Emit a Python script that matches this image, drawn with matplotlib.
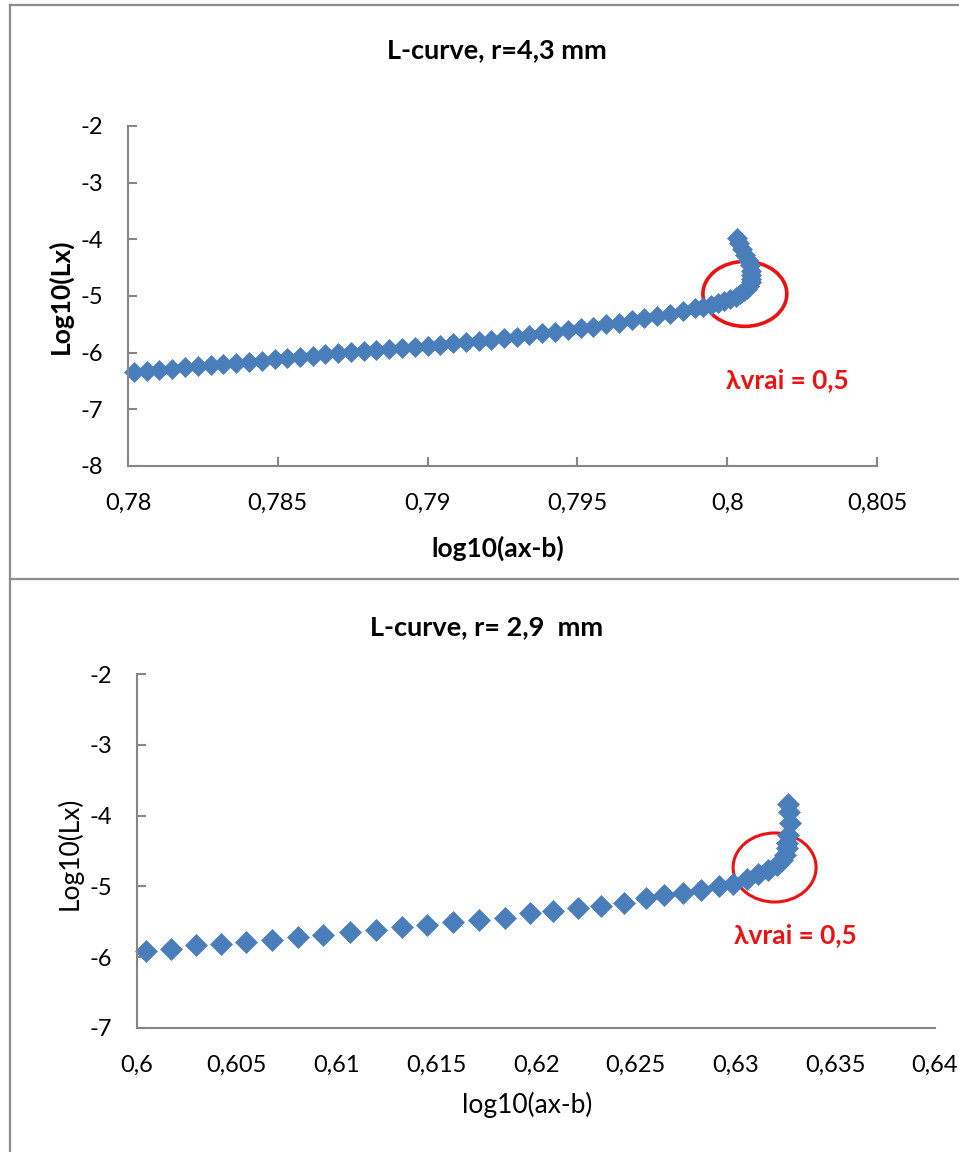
import matplotlib.pyplot as plt
from matplotlib.patches import Ellipse
from matplotlib.lines import Line2D

# --- top panel: L-curve, r=4,3 mm ---
x_top = [0.78020, 0.78063, 0.78105, 0.78148, 0.78190, 0.78233, 0.78276, 0.78318,
         0.78361, 0.78403, 0.78446, 0.78489, 0.78531, 0.78574, 0.78616, 0.78659,
         0.78702, 0.78744, 0.78787, 0.78829, 0.78872, 0.78914, 0.78957, 0.79000,
         0.79042, 0.79085, 0.79127, 0.79170, 0.79212, 0.79255, 0.79298, 0.79340,
         0.79383, 0.79425, 0.79468, 0.79511, 0.79553, 0.79596, 0.79638, 0.79681,
         0.79723, 0.79766, 0.79809, 0.79851, 0.79894,
         0.79920, 0.79945, 0.79968, 0.79990, 0.80010, 0.80028, 0.80043, 0.80055,
         0.80065, 0.80073, 0.80078, 0.80080, 0.80080, 0.80078, 0.80075, 0.80068,
         0.80060, 0.80050, 0.80040, 0.80033]
y_top = [-6.34, -6.32, -6.30, -6.28, -6.26, -6.24, -6.22, -6.20,
         -6.18, -6.16, -6.14, -6.11, -6.09, -6.07, -6.05, -6.03,
         -6.01, -5.99, -5.97, -5.95, -5.94, -5.92, -5.90, -5.88,
         -5.86, -5.83, -5.81, -5.79, -5.77, -5.74, -5.72, -5.69,
         -5.66, -5.63, -5.60, -5.57, -5.54, -5.50, -5.47, -5.43,
         -5.39, -5.35, -5.31, -5.27, -5.22,
         -5.19, -5.16, -5.12, -5.09, -5.05, -5.01, -4.97, -4.92,
         -4.87, -4.82, -4.76, -4.70, -4.63, -4.55, -4.46, -4.37,
         -4.27, -4.17, -4.07, -3.98]
xticks_top = [0.78, 0.785, 0.79, 0.795, 0.8, 0.805]
xticklabels_top = ["0,78", "0,785", "0,79", "0,795", "0,8", "0,805"]
yticks_top = [-8, -7, -6, -5, -4, -3, -2]

# --- bottom panel: L-curve, r= 2,9 mm ---
x_bot = [0.60045, 0.60170, 0.60296, 0.60420, 0.60546, 0.60675, 0.60806, 0.60934,
         0.61068, 0.61198, 0.61327, 0.61455, 0.61586, 0.61716, 0.61845, 0.61970,
         0.62087, 0.62209, 0.62324, 0.62441, 0.62550, 0.62643, 0.62738, 0.62829,
         0.62917, 0.62989, 0.63056, 0.63114, 0.63164, 0.63207, 0.63232, 0.63248,
         0.63257, 0.63260, 0.63265, 0.63274, 0.63270, 0.63265]
y_bot = [-5.91, -5.88, -5.83, -5.81, -5.78, -5.75, -5.71, -5.68,
         -5.64, -5.62, -5.57, -5.54, -5.50, -5.47, -5.44, -5.38,
         -5.35, -5.30, -5.28, -5.23, -5.17, -5.12, -5.09, -5.05,
         -5.00, -4.97, -4.89, -4.83, -4.77, -4.70, -4.63, -4.56,
         -4.46, -4.39, -4.27, -4.11, -3.95, -3.83]
xticks_bot = [0.6, 0.605, 0.61, 0.615, 0.62, 0.625, 0.63, 0.635, 0.64]
xticklabels_bot = ["0,6", "0,605", "0,61", "0,615", "0,62", "0,625", "0,63", "0,635", "0,64"]
yticks_bot = [-7, -6, -5, -4, -3, -2]

plt.rcParams["font.family"] = ["Lato", "DejaVu Sans"]

blue = "#4a7ebb"
grey = "#868686"
red = "#ee1111"
W, H = 959, 1152
fig = plt.figure(figsize=(W / 100, H / 100), dpi=100)

# outer frames of the two excel chart objects
for seg in [((10, 959), (5, 5)), ((10, 959), (579, 579)), ((10, 10), (5, 1152))]:
    fig.add_artist(Line2D([seg[0][0] / W, seg[0][1] / W],
                          [1 - seg[1][0] / H, 1 - seg[1][1] / H],
                          color="#8c8c8c", lw=1.6))


def style_axes(ax, xlim, ylim, xticks, xlabels, yticks, bottom_ticks):
    ax.set_xlim(xlim)
    ax.set_ylim(ylim)
    ax.set_xticks(xticks)
    ax.set_xticklabels(xlabels)
    ax.set_yticks(yticks)
    ax.set_yticklabels([str(v) for v in yticks])
    for s in ["top", "right"]:
        ax.spines[s].set_visible(False)
    for s in ["left", "bottom"]:
        ax.spines[s].set_color(grey)
        ax.spines[s].set_linewidth(1.5)
    ax.tick_params(axis="y", direction="in", length=6.5, width=1.5, color=grey,
                   pad=18, labelsize=17)
    ax.tick_params(axis="x", direction="in", length=6.5 if bottom_ticks else 0,
                   width=1.5, color=grey, pad=19, labelsize=17)


# top chart
ax1 = fig.add_axes([128 / W, 1 - 466 / H, 749 / W, 340 / H])
ax1.plot(x_top, y_top, linestyle="none", marker="D", markersize=10.5,
         color=blue, markeredgecolor=blue, markeredgewidth=0.5, clip_on=False)
style_axes(ax1, (0.78, 0.805), (-8, -2), xticks_top, xticklabels_top, yticks_top, True)
ax1.set_xlabel("log10(ax-b)", fontsize=19, fontweight="bold")
ax1.set_ylabel("Log10(Lx)", fontsize=19, fontweight="bold")
ax1.xaxis.set_label_coords(0.493, -0.241)
ax1.xaxis.label.set_va("center")
ax1.yaxis.set_label_coords(-0.091, 0.5)
ax1.yaxis.label.set_va("center")
ax1.add_patch(Ellipse((0.80059, -4.963), 0.0028, 1.146, fill=False,
                      edgecolor=red, lw=2.6, clip_on=False))
ax1.text(0.80200, -6.48, "λvrai = 0,5", color=red, fontsize=19,
         fontweight="bold", ha="center", va="center")
fig.text(497 / W, 1 - 50 / H, "L-curve, r=4,3 mm", ha="center", va="center",
         fontsize=19.5, fontweight="bold")

# bottom chart
ax2 = fig.add_axes([137 / W, 1 - 1028 / H, 798 / W, 354 / H])
ax2.plot(x_bot, y_bot, linestyle="none", marker="D", markersize=11,
         color=blue, markeredgecolor=blue, markeredgewidth=0.5, clip_on=False)
style_axes(ax2, (0.6, 0.64), (-7, -2), xticks_bot, xticklabels_bot, yticks_bot, False)
ax2.set_xlabel("log10(ax-b)", fontsize=19)
ax2.set_ylabel("Log10(Lx)", fontsize=19)
ax2.xaxis.set_label_coords(0.4887, -0.2175)
ax2.xaxis.label.set_va("center")
ax2.yaxis.set_label_coords(-0.084, 0.494)
ax2.yaxis.label.set_va("center")
ax2.add_patch(Ellipse((0.63196, -4.733), 0.00416, 0.975, fill=False,
                      edgecolor=red, lw=2.2, clip_on=False))
ax2.text(0.63298, -5.686, "λvrai = 0,5", color=red, fontsize=19,
         fontweight="bold", ha="center", va="center")
fig.text(487 / W, 1 - 627 / H, "L-curve, r= 2,9  mm", ha="center", va="center",
         fontsize=19.5, fontweight="bold")

fig.savefig("out.png", dpi=100)
